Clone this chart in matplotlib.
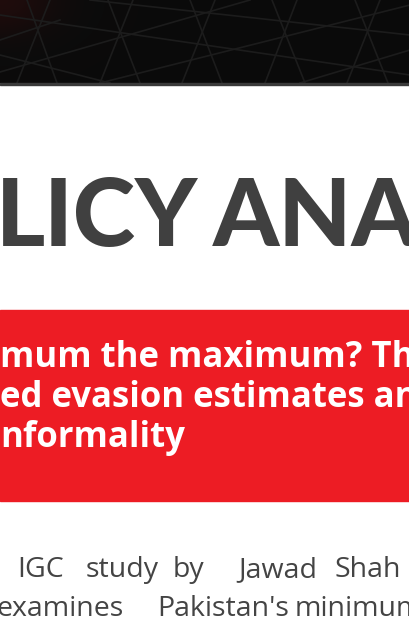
import numpy as np
import matplotlib
matplotlib.use('Agg')
import matplotlib.pyplot as plt
from matplotlib.patches import Rectangle

# page content
title_left = "LICY"
title_right = "ANALYSIS"
headline_lines = ["mum the maximum? The",
                  "ed evasion estimates and",
                  "nformality"]
body_line1 = ["IGC", "study", "by", "Jawad", "Shah"]
body_line2 = ["examines", "Pakistan's", "minimum"]

# header decoration: lattice of faint lines (x0, y0, x1, y1) in px
lattice = [
    (27, 0, 57, 83), (108, 0, 140, 83), (190, 0, 222, 83), (272, 0, 305, 83), (355, 0, 388, 83),
    (50, 0, 17, 83), (133, 0, 100, 83), (215, 0, 182, 83), (297, 0, 265, 83), (380, 0, 347, 83),
    (0, 15, 410, 75), (90, 0, 410, 35), (0, 55, 110, 83),
    (0, 72, 250, 0), (100, 83, 410, 5), (0, 40, 60, 20), (300, 83, 410, 50),
]

W, H = 410, 622
fig = plt.figure(figsize=(W / 100, H / 100), dpi=100)
ax = fig.add_axes([0, 0, 1, 1])
ax.set_xlim(0, W)
ax.set_ylim(H, 0)
ax.axis('off')
fig.patch.set_facecolor('white')

# dark header with faint reddish glow top-left
yy, xx = np.mgrid[0:84, 0:W]
glow = np.exp(-((xx / 55.0) ** 2 + (yy / 35.0) ** 2))
img = np.zeros((84, W, 3))
img[..., 0] = 0.043 + 0.08 * glow
img[..., 1] = 0.043 + 0.005 * glow
img[..., 2] = 0.043 + 0.005 * glow
ax.imshow(img, extent=[0, W, 83, 0], aspect='auto', zorder=1)
for x0, y0, x1, y1 in lattice:
    ax.plot([x0, x1], [y0, y1], color='#1c1c1c', lw=1.2, zorder=2)
ax.add_patch(Rectangle((0, 83), W, 2, color='#3a3a3a', zorder=3))

# big section title (cropped at both edges)
ax.text(-4, 246, title_left, fontsize=68, family='Lato', weight='black',
        color='#404040', va='baseline', ha='left', zorder=3)
ax.text(213, 246, title_right, fontsize=68, family='Lato', weight='black',
        color='#404040', va='baseline', ha='left', zorder=3)

# red headline box
ax.add_patch(Rectangle((0, 310), W, 191, color='#ed1c24', zorder=2))
for i, line in enumerate(headline_lines):
    ax.text(0, 367 + 40 * i, line, fontsize=25, family='Open Sans', weight='bold',
            color='white', va='baseline', ha='left', zorder=3)

# body text, justified words
x1 = [17, 86, 173, 238, 335]
x2 = [-4, 157, 295]
for w, x in zip(body_line1, x1):
    ax.text(x, 577, w, fontsize=20.5, family='Open Sans', color='#444444',
            va='baseline', ha='left', zorder=3)
for w, x in zip(body_line2, x2):
    ax.text(x, 616, w, fontsize=20.5, family='Open Sans', color='#444444',
            va='baseline', ha='left', zorder=3)

fig.savefig('out.png', dpi=100)
